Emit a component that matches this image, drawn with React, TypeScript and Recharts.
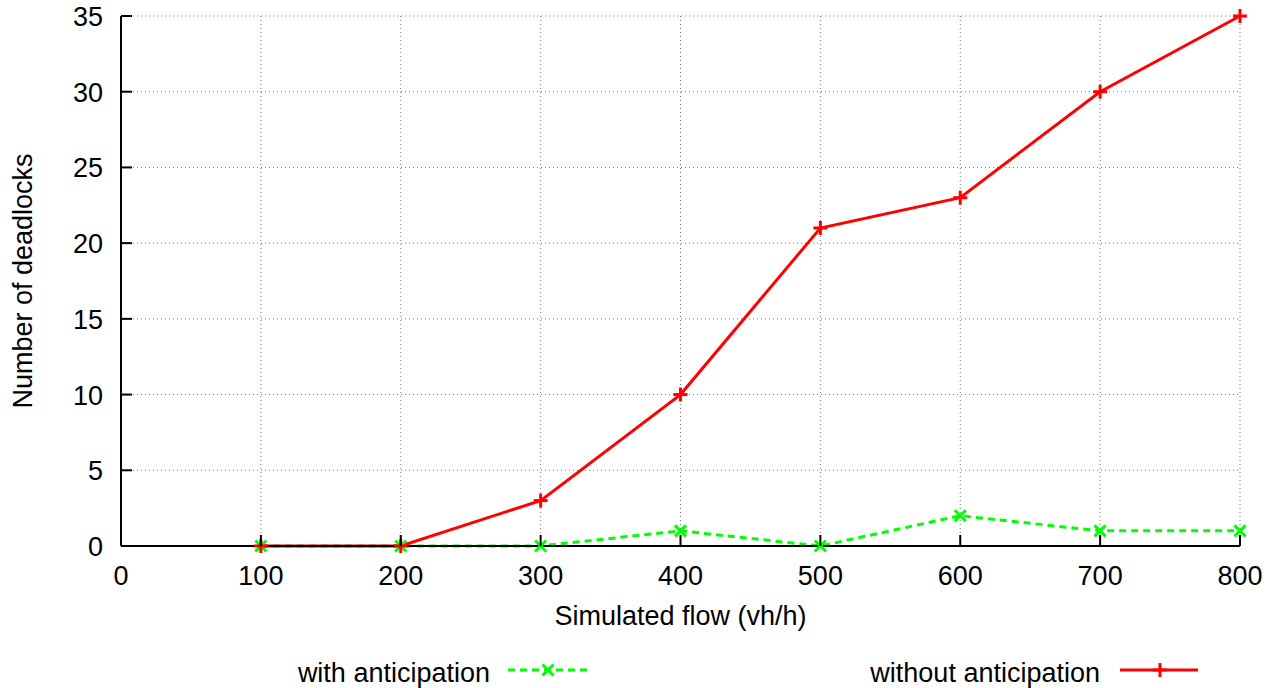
import { LineChart, Line, XAxis, YAxis, CartesianGrid } from "recharts";

const flows = [100, 200, 300, 400, 500, 600, 700, 800];
const withAnticipation = [0, 0, 0, 1, 0, 2, 1, 1];
const withoutAnticipation = [0, 0, 3, 10, 21, 23, 30, 35];
const xTicks = [0, 100, 200, 300, 400, 500, 600, 700, 800];
const yTicks = [0, 5, 10, 15, 20, 25, 30, 35];

const GREEN = "#00ff00";
const RED = "#ff0000";
const FONT = "'Liberation Sans', Arial, sans-serif";
const FS = 27;
const TICK_LEN = 11;

const data = flows.map((f, i) => ({
  flow: f,
  withA: withAnticipation[i],
  withoutA: withoutAnticipation[i],
}));

function Cross({ cx, cy }: any) {
  if (cx == null || cy == null) return null;
  const s = 5.5;
  return (
    <g stroke={GREEN} strokeWidth={3}>
      <line x1={cx - s} y1={cy - s} x2={cx + s} y2={cy + s} />
      <line x1={cx - s} y1={cy + s} x2={cx + s} y2={cy - s} />
    </g>
  );
}

function Plus({ cx, cy }: any) {
  if (cx == null || cy == null) return null;
  const s = 7;
  return (
    <g stroke={RED} strokeWidth={3}>
      <line x1={cx - s} y1={cy} x2={cx + s} y2={cy} />
      <line x1={cx} y1={cy - s} x2={cx} y2={cy + s} />
    </g>
  );
}

function BottomTick({ x, y, payload }: any) {
  return (
    <g>
      <line x1={x} y1={y} x2={x} y2={y - TICK_LEN} stroke="#000" strokeWidth={2} />
      <text x={x} y={y + 39} textAnchor="middle" fontSize={FS} fontFamily={FONT} fill="#000">
        {payload.value}
      </text>
    </g>
  );
}

function TopTick({ x, y }: any) {
  return <line x1={x} y1={y} x2={x} y2={y + TICK_LEN} stroke="#000" strokeWidth={2} />;
}

function LeftTick({ x, y, payload }: any) {
  return (
    <g>
      <line x1={x} y1={y} x2={x + TICK_LEN} y2={y} stroke="#000" strokeWidth={2} />
      <text x={x - 18} y={y + 10} textAnchor="end" fontSize={FS} fontFamily={FONT} fill="#000">
        {payload.value}
      </text>
    </g>
  );
}

function RightTick({ x, y }: any) {
  return <line x1={x} y1={y} x2={x - TICK_LEN} y2={y} stroke="#000" strokeWidth={2} />;
}

export default function App() {
  return (
    <div style={{ position: "absolute", left: 0, top: 0, width: 1277, height: 688, background: "#fff" }}>
      <LineChart
        width={1277}
        height={688}
        data={data}
        margin={{ top: 16, right: 37, bottom: 102, left: 21 }}
      >
        <CartesianGrid stroke="#777" strokeDasharray="1 3" strokeWidth={1} />
        <XAxis
          dataKey="flow"
          type="number"
          domain={[0, 800]}
          ticks={xTicks}
          height={40}
          tickSize={0}
          tickMargin={0}
          tick={<BottomTick />}
          axisLine={{ stroke: "#000", strokeWidth: 2 }}
          label={{ value: "Simulated flow (vh/h)", position: "bottom", offset: 20, fontSize: FS, fontFamily: FONT, fill: "#000" }}
        />
        <XAxis
          xAxisId="top"
          orientation="top"
          dataKey="flow"
          type="number"
          domain={[0, 800]}
          ticks={xTicks}
          height={0}
          tickSize={0}
          tickMargin={0}
          tick={<TopTick />}
          axisLine={{ stroke: "#000", strokeWidth: 2 }}
        />
        <YAxis
          type="number"
          domain={[0, 35]}
          ticks={yTicks}
          width={100}
          tickSize={0}
          tickMargin={0}
          tick={<LeftTick />}
          axisLine={{ stroke: "#000", strokeWidth: 2 }}
          label={{ value: "Number of deadlocks", angle: -90, position: "insideLeft", offset: 1.5, fontSize: FS, fontFamily: FONT, fill: "#000", style: { textAnchor: "middle" } }}
        />
        <YAxis
          yAxisId="right"
          orientation="right"
          type="number"
          domain={[0, 35]}
          ticks={yTicks}
          width={0}
          tickSize={0}
          tickMargin={0}
          tick={<RightTick />}
          axisLine={{ stroke: "#000", strokeWidth: 2 }}
        />
        <Line
          dataKey="withA"
          stroke={GREEN}
          strokeWidth={3}
          strokeDasharray="7 5"
          dot={<Cross />}
          activeDot={false}
          isAnimationActive={false}
        />
        <Line
          dataKey="withoutA"
          stroke={RED}
          strokeWidth={3}
          dot={<Plus />}
          activeDot={false}
          isAnimationActive={false}
        />
      </LineChart>
      <svg width={1277} height={38} style={{ position: "absolute", left: 0, top: 650 }}>
        <text x={490} y={32} textAnchor="end" fontSize={FS} fontFamily={FONT} fill="#000">
          with anticipation
        </text>
        <line x1={508} y1={20} x2={588} y2={20} stroke={GREEN} strokeWidth={3} strokeDasharray="7 5" />
        <Cross cx={548} cy={20} />
        <text x={1100} y={32} textAnchor="end" fontSize={FS} fontFamily={FONT} fill="#000">
          without anticipation
        </text>
        <line x1={1120} y1={20} x2={1198} y2={20} stroke={RED} strokeWidth={3} />
        <Plus cx={1160} cy={20} />
      </svg>
    </div>
  );
}
